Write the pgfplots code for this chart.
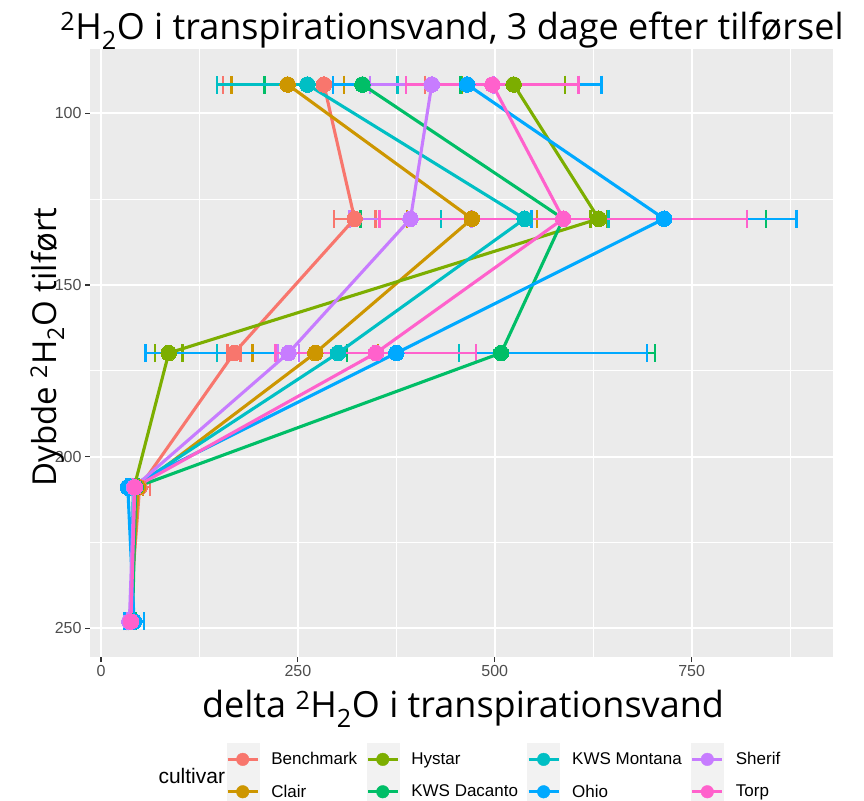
\documentclass[border=0pt]{standalone}
\usepackage{fontspec}
\setmainfont{Open Sans}
\newfontfamily\arial{Liberation Sans}
\usepackage{pgfplots}
\usepackage{pgfplotstable}
\usetikzlibrary{arrows.meta}
\pgfplotsset{compat=1.18}

% ggplot2 hue palette, one colour per cultivar
\definecolor{cBench}{HTML}{F8766D}
\definecolor{cClair}{HTML}{CD9600}
\definecolor{cHystar}{HTML}{7CAE00}
\definecolor{cDacanto}{HTML}{00BE67}
\definecolor{cMontana}{HTML}{00BFC4}
\definecolor{cOhio}{HTML}{00A9FF}
\definecolor{cSherif}{HTML}{C77CFF}
\definecolor{cTorp}{HTML}{FF61CC}
\definecolor{panelbg}{HTML}{EBEBEB}
\definecolor{keybg}{HTML}{F2F2F2}
\definecolor{tickgray}{HTML}{333333}
\definecolor{labgray}{HTML}{4D4D4D}

% mean delta value (x), depth (y) and standard error (e)
\pgfplotstableread{
x y e
283 91.6 130
322 130.7 28
169 169.8 10
49 208.9 15
36 248.0 4
}\tBench
\pgfplotstableread{
x y e
237 91.6 73
471 130.7 84
272 169.8 81
47 208.9 8
37 248.0 5
}\tClair
\pgfplotstableread{
x y e
524 91.6 67
632 130.7 12
86 169.8 19
42 208.9 4
38 248.0 4
}\tHystar
\pgfplotstableread{
x y e
332 91.6 126
587 130.7 259
508 169.8 197
44 208.9 5
40 248.0 6
}\tDacanto
\pgfplotstableread{
x y e
262 91.6 116
538 130.7 108
301 169.8 155
41 208.9 4
38 248.0 5
}\tMontana
\pgfplotstableread{
x y e
465 91.6 172
715 130.7 170
375 169.8 320
34 208.9 3
42 248.0 14
}\tOhio
\pgfplotstableread{
x y e
420 91.6 80
393 130.7 79
238 169.8 15
42 208.9 4
36 248.0 4
}\tSherif
\pgfplotstableread{
x y e
497 91.6 111
587 130.7 235
349 169.8 129
43 208.9 4
38 248.0 4
}\tTorp

% cap at both ends of a horizontal error bar
\tikzset{capbar/.tip={Bar[width=18bp]}}

\pgfplotsset{
  % horizontal error bar: from x-e, length 2e
  ebar/.style={draw=#1, line width=2.5bp, mark=none, forget plot,
    quiver={u=2*\thisrow{e}, v=0,
      every arrow/.append style={line width=2.5bp}},
    capbar-capbar},
  ln/.style={draw=#1, line width=3.1bp, mark=none, forget plot},
  pt/.style={color=#1, only marks, mark=*, mark size=7.8bp,
    mark options={draw=#1, fill=#1, line width=0pt},
    legend image code/.code={
      \fill[keybg] (0bp,-16bp) rectangle (32bp,16bp);
      \draw[#1, line width=3.1bp] (1bp,0bp) -- (31bp,0bp);
      \fill[#1] (16bp,0bp) circle (6.3bp);}},
}

\begin{document}
\begin{tikzpicture}
\useasboundingbox (0,0) rectangle (864bp,801bp);
\begin{axis}[
  at={(90bp,144bp)}, anchor=south west,
  width=742.6bp, height=608bp, scale only axis,
  xmin=-14, xmax=929, ymin=81.25, ymax=258.35, y dir=reverse,
  axis background/.style={fill=panelbg},
  axis line style={draw=none},
  xtick={0,250,500,750}, ytick={100,150,200,250},
  minor xtick={125,375,625,875}, minor ytick={125,175,225},
  grid=both,
  major grid style={draw=white, line width=2.2bp},
  minor grid style={draw=white, line width=1.1bp},
  tick align=outside, tick pos=left,
  major tick length=5bp, minor tick length=0bp,
  tick style={draw=tickgray, line width=1.1bp},
  minor tick style={draw=none},
  /pgf/number format/assume math mode=true,
  ticklabel style={font=\arial\fontsize{16bp}{18bp}\selectfont, text=labgray},
  legend columns=2, transpose legend,
  legend style={at={(0.1831,-0.1414)}, anchor=north west,
    draw=none, fill=none, inner sep=0pt, row sep=0pt,
    font=\arial\fontsize{17bp}{19bp}\selectfont,
    /tikz/every odd column/.append style={column sep=10bp},
    /tikz/every even column/.append style={column sep=7bp}},
  legend cell align=left,
]
% error bars
\addplot[ebar=cBench] table[x expr=\thisrow{x}-\thisrow{e}, y=y] {\tBench};
\addplot[ebar=cClair] table[x expr=\thisrow{x}-\thisrow{e}, y=y] {\tClair};
\addplot[ebar=cHystar] table[x expr=\thisrow{x}-\thisrow{e}, y=y] {\tHystar};
\addplot[ebar=cDacanto] table[x expr=\thisrow{x}-\thisrow{e}, y=y] {\tDacanto};
\addplot[ebar=cMontana] table[x expr=\thisrow{x}-\thisrow{e}, y=y] {\tMontana};
\addplot[ebar=cOhio] table[x expr=\thisrow{x}-\thisrow{e}, y=y] {\tOhio};
\addplot[ebar=cSherif] table[x expr=\thisrow{x}-\thisrow{e}, y=y] {\tSherif};
\addplot[ebar=cTorp] table[x expr=\thisrow{x}-\thisrow{e}, y=y] {\tTorp};
% profiles
\addplot[ln=cBench] table[x=x, y=y] {\tBench};
\addplot[ln=cClair] table[x=x, y=y] {\tClair};
\addplot[ln=cHystar] table[x=x, y=y] {\tHystar};
\addplot[ln=cDacanto] table[x=x, y=y] {\tDacanto};
\addplot[ln=cMontana] table[x=x, y=y] {\tMontana};
\addplot[ln=cOhio] table[x=x, y=y] {\tOhio};
\addplot[ln=cSherif] table[x=x, y=y] {\tSherif};
\addplot[ln=cTorp] table[x=x, y=y] {\tTorp};
% points
\addplot[pt=cBench] table[x=x, y=y] {\tBench};
\addlegendentry{Benchmark}
\addplot[pt=cClair] table[x=x, y=y] {\tClair};
\addlegendentry{Clair}
\addplot[pt=cHystar] table[x=x, y=y] {\tHystar};
\addlegendentry{Hystar}
\addplot[pt=cDacanto] table[x=x, y=y] {\tDacanto};
\addlegendentry{KWS Dacanto}
\addplot[pt=cMontana] table[x=x, y=y] {\tMontana};
\addlegendentry{KWS Montana}
\addplot[pt=cOhio] table[x=x, y=y] {\tOhio};
\addlegendentry{Ohio}
\addplot[pt=cSherif] table[x=x, y=y] {\tSherif};
\addlegendentry{Sherif}
\addplot[pt=cTorp] table[x=x, y=y] {\tTorp};
\addlegendentry{Torp}
\end{axis}
\node[anchor=base] at (452bp,761bp)
  {\fontsize{36bp}{40bp}\selectfont \textsuperscript{2}H\textsubscript{2}O i transpirationsvand, 3 dage efter tilførsel};
\node[anchor=base] at (463bp,83bp)
  {\fontsize{36bp}{40bp}\selectfont delta \textsuperscript{2}H\textsubscript{2}O i transpirationsvand};
\node[anchor=base, rotate=90] at (56bp,454bp)
  {\fontsize{33bp}{37bp}\selectfont Dybde \textsuperscript{2}H\textsubscript{2}O tilført};
\node[anchor=west] at (155bp,25bp)
  {\arial\fontsize{21bp}{23bp}\selectfont cultivar};
\end{tikzpicture}
\end{document}
